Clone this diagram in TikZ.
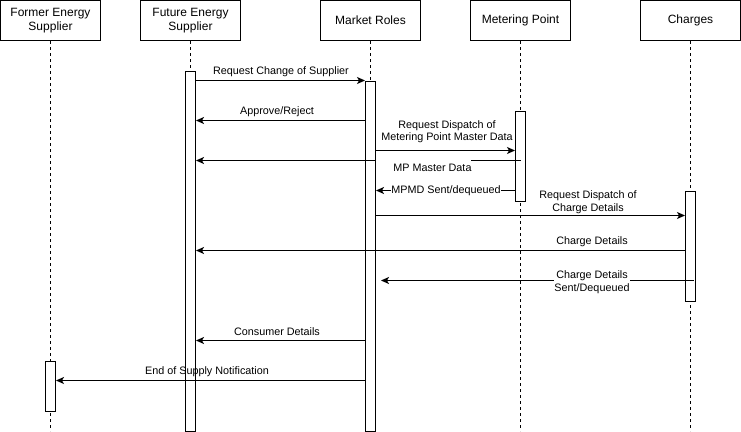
\documentclass[tikz,border=0pt]{standalone}
\usepackage{fontspec}
\setmainfont{Liberation Sans}
\usetikzlibrary{arrows.meta}
\begin{document}
\begin{tikzpicture}[x=1pt,y=-1pt,
  hdr/.style={draw,line width=1pt,minimum width=100pt,minimum height=40pt,inner sep=0pt,align=center,font=\fontsize{12}{14}\selectfont},
  life/.style={line width=0.8pt,dash pattern=on 3pt off 3pt},
  bar/.style={draw,fill=white,line width=1pt,minimum width=10pt,inner sep=0pt,anchor=north},
  msg/.style={line width=1pt,-{Stealth[length=8pt,width=7pt,inset=2pt]}},
  lbl/.style={font=\fontsize{10.8}{12.5}\selectfont,inner sep=0.8pt,align=center},
  wlbl/.style={lbl,fill=white}]
\useasboundingbox (0,0) rectangle (741,431);
% headers
\node[hdr] (h1) at (50.5,20.5) {Former Energy\\Supplier};
\node[hdr] (h2) at (190.5,20.5) {Future Energy\\Supplier};
\node[hdr] (h3) at (370.5,20.5) {Market Roles};
\node[hdr] (h4) at (520.5,20.5) {Metering Point};
\node[hdr] (h5) at (690.5,20.5) {Charges};
% lifeline ends
\coordinate (e1) at (50.5,431);
\coordinate (e2) at (190.5,431);
\coordinate (e3) at (370.5,431);
\coordinate (e4) at (520.5,431);
\coordinate (e5) at (690.5,431);
\foreach \i in {1,...,5}{\draw[life] (h\i.south) -- (e\i);}
% activation bars
\node[bar,minimum height=360pt] (fut) at (190.5,70.5) {};
\node[bar,minimum height=350pt] (mkt) at (370.5,80.5) {};
\node[bar,minimum height=90pt] (mp) at (520.5,110.5) {};
\node[bar,minimum height=110pt] (ch) at (690.5,190.5) {};
\node[bar,minimum height=50pt] (fmr) at (50.5,360.5) {};
% messages
\draw[msg] (fut.east |- 0,80.5) -- (mkt.west |- 0,80.5);
\node[lbl] (l1) at (281,71.5) {Request Change of Supplier};
\draw[msg] (mkt.west |- 0,120.5) -- (fut.east |- 0,120.5);
\node[lbl] (l2) at (277,111.5) {Approve/Reject};
\draw[msg] (mkt.east |- 0,150.5) -- (mp.west |- 0,150.5);
\node[lbl] (l3) at (447,131.5) {Request Dispatch of\\Metering Point Master Data};
\draw[msg] (mp.center |- 0,160.5) -- (fut.east |- 0,160.5);
\fill[white] (376.2,156) rectangle (471,164.5);
\node[lbl] (l4) at (432.5,168) {MP Master Data};
\draw[msg] (mp.west |- 0,190.5) -- (mkt.east |- 0,190.5);
\node[wlbl] (l5) at (446,190.5) {MPMD Sent/dequeued};
\draw[msg] (mkt.east |- 0,215.5) -- (ch.west |- 0,215.5);
\node[lbl] (l6) at (588,202) {Request Dispatch of\\Charge Details};
\draw[msg] (ch.west |- 0,250.5) -- (fut.east |- 0,250.5);
\node[lbl] (l7) at (592,242) {Charge Details};
\draw[msg] ([xshift=-2.5pt]ch.east |- 0,280.5) -- ([xshift=5pt]mkt.east |- 0,280.5);
\node[wlbl] (l8) at (592,282) {Charge Details\\Sent/Dequeued};
\draw[msg] (mkt.west |- 0,340.5) -- (fut.east |- 0,340.5);
\node[lbl] (l9) at (277,331.5) {Consumer Details};
\draw[msg] (mkt.west |- 0,380.5) -- (fmr.east |- 0,380.5);
\node[lbl] (l10) at (207,371.5) {End of Supply Notification};
\end{tikzpicture}
\end{document}
